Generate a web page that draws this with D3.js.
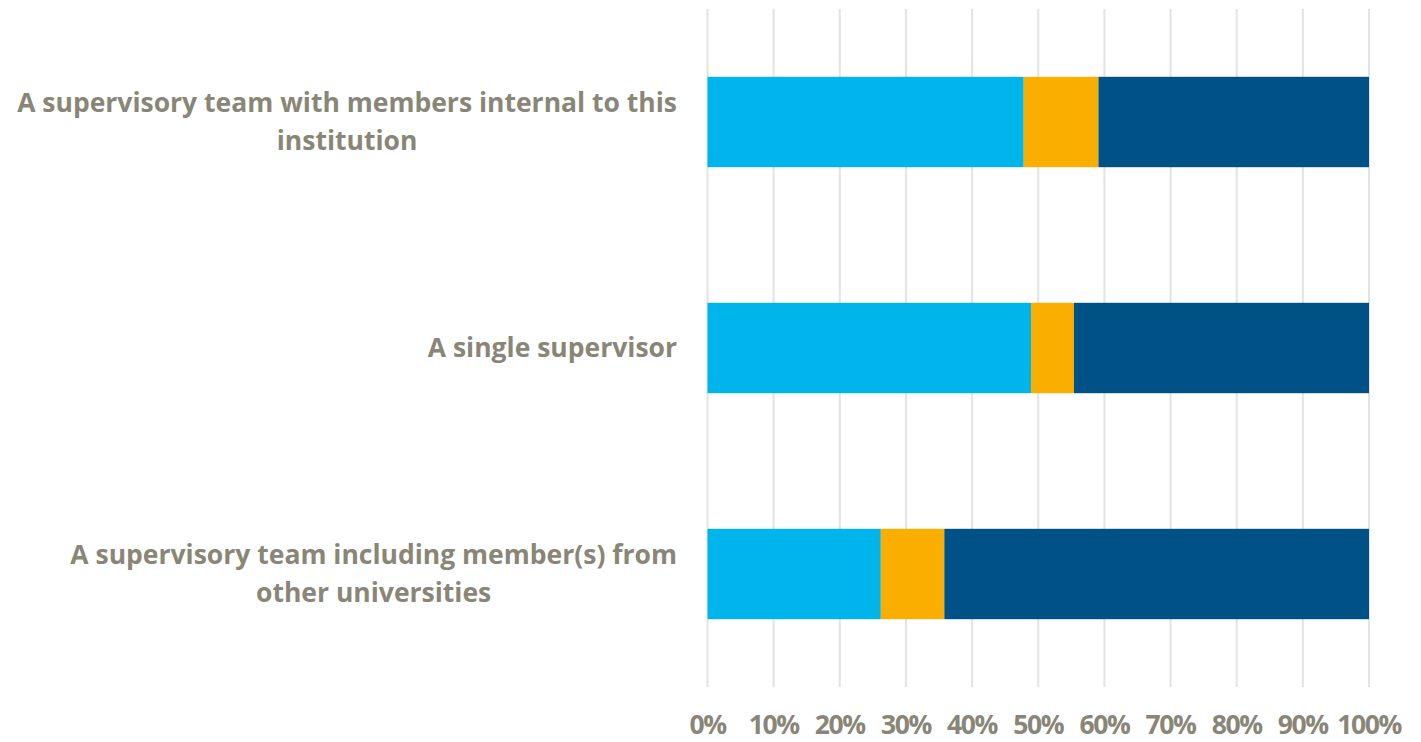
<!DOCTYPE html>
<html><head><meta charset="utf-8">
<script src="https://cdn.jsdelivr.net/npm/d3@7"></script>
<style>body{margin:0;background:#fff}svg{display:block}</style>
</head><body>
<svg id="chart" width="1421" height="742"></svg>
<script>
const categories = [
  ["A supervisory team with members internal to this", "institution"],
  ["A single supervisor"],
  ["A supervisory team including member(s) from", "other universities"]
];
const seriesNames = ["Series 1", "Series 2", "Series 3"];
const series1 = [47.8, 48.9, 26.2];
const series2 = [11.3, 6.5, 9.6];
const series3 = [40.9, 44.6, 64.2];
const colors = ["#00b4ec", "#f9ae00", "#005286"];
const tickValues = [0,10,20,30,40,50,60,70,80,90,100];

const svg = d3.select("#chart");
const margin = {left: 707.5, right: 52, top: 9, bottom: 55};
const W = 1421, H = 742;
const x = d3.scaleLinear().domain([0,100]).range([margin.left, W - margin.right]);
const y = d3.scaleBand().domain(d3.range(categories.length)).range([margin.top, H - margin.bottom]).paddingInner(0.6).paddingOuter(0.3);
const textColor = "#898677";
const font = "'Open Sans', sans-serif";

// gridlines
svg.append("g").selectAll("line").data(tickValues).join("line")
  .attr("x1", d => x(d)).attr("x2", d => x(d))
  .attr("y1", margin.top).attr("y2", H - margin.bottom)
  .attr("stroke", "#e3e3e3").attr("stroke-width", 2);

const rows = categories.map((c, i) => ({i, vals: [series1[i], series2[i], series3[i]]}));
const stackData = rows.map(r => { let acc = 0; return r.vals.map((v, k) => { const s = {i: r.i, k, x0: acc, x1: acc + v}; acc += v; return s; }); }).flat();

svg.append("g").selectAll("rect").data(stackData).join("rect")
  .attr("x", d => x(d.x0)).attr("width", d => x(d.x1) - x(d.x0))
  .attr("y", d => y(d.i)).attr("height", y.bandwidth())
  .attr("fill", d => colors[d.k]);

// category labels
const lh = 38;
const lab = svg.append("g");
categories.forEach((lines, i) => {
  const cy = y(i) + y.bandwidth()/2;
  const t = lab.append("text").attr("font-family", font).attr("font-weight", 700)
    .attr("font-size", 26.5).attr("fill", textColor).attr("text-anchor", "middle");
  lines.forEach((ln, j) => {
    t.append("tspan").attr("x", 0).attr("y", cy + (j - (lines.length-1)/2)*lh).attr("dy", "0.35em").text(ln);
  });
  const bb = t.node().getBBox();
  t.selectAll("tspan").attr("x", 677 - bb.width/2);
});

// x axis tick labels
svg.append("g").selectAll("text").data(tickValues).join("text")
  .attr("x", d => x(d)).attr("y", 734)
  .attr("text-anchor", "middle").attr("font-family", font).attr("font-weight", 700)
  .attr("font-size", 26.5).attr("letter-spacing", -1.4).attr("fill", textColor).text(d => d + "%");
</script>
</body></html>
